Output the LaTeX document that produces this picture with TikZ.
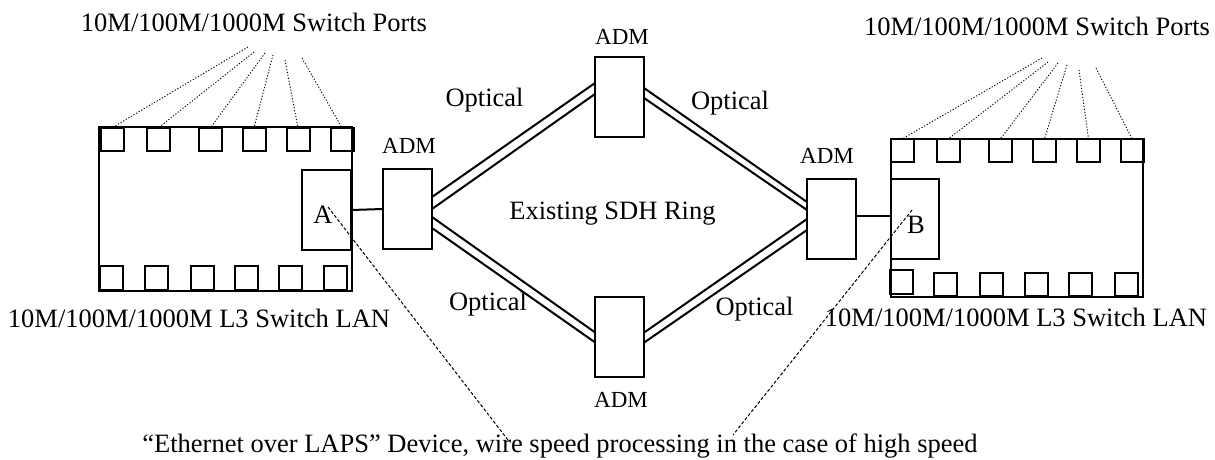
\documentclass[tikz,border=0pt]{standalone}
\usepackage{fontspec}
\setmainfont{Liberation Serif}
\usetikzlibrary{calc}
\begin{document}
\begin{tikzpicture}[x=0.5pt,y=-0.5pt,
  rbox/.style={draw,line width=1pt,inner sep=0pt,outer sep=0pt},
  port/.style={rbox,minimum width=11.5pt,minimum height=11.75pt},
  admbox/.style={rbox,minimum width=24.5pt,minimum height=40pt},
  lbl/.style={font=\fontsize{13.25}{15}\selectfont,inner sep=0pt,anchor=base},
  admlbl/.style={font=\fontsize{11.5}{13}\selectfont,inner sep=0pt,anchor=base},
  fiber/.style={line width=1pt},
  link/.style={line width=1pt},
  dots/.style={line width=0.45pt,dash pattern=on 0.6pt off 0.9pt},
  dashes/.style={line width=0.5pt,dash pattern=on 1.6pt off 1pt}]
\useasboundingbox (0,0) rectangle (1215,460);

% ---------- left switch ----------
\node[rbox,minimum width=126.5pt,minimum height=82pt] (swl) at (225.5,209) {};
\foreach \x [count=\i] in {112,158.5,210.5,254,298,342}
  \node[port] (tl\i) at (\x,139.5) {};
\foreach \x [count=\i] in {111,156.5,202,246,290.5,335.5}
  \node[port] (bl\i) at (\x,278) {};
\node[admbox] (abox) at (326.5,210) {};
\node[lbl] (alab) at (323,223) {A};

% ---------- right switch ----------
\node[rbox,minimum width=126pt,minimum height=79pt] (swr) at (1017,218) {};
\foreach \x [count=\i] in {902.5,948.5,1000.5,1044.5,1088.5,1132}
  \node[port] (tr\i) at (\x,150.5) {};
\node[port] (br1) at (901,282) {};
\foreach \x [count=\i from 2] in {945.5,991.5,1036.5,1080.5,1126}
  \node[port] (br\i) at (\x,284.5) {};
\node[rbox,minimum width=24pt,minimum height=40pt] (bbox) at (915,219) {};
\node[lbl] (blab) at (916,233) {B};

% ---------- ADMs ----------
\node[admbox] (admL) at (407.5,209) {};
\node[admbox] (admT) at (619.5,97) {};
\node[admbox] (admB) at (619,336.5) {};
\node[admbox] (admR) at (831.5,219) {};
\node[admlbl] (lL) at (409,154) {ADM};
\node[admlbl] (lT) at (622,45) {ADM};
\node[admlbl] (lB) at (621,407) {ADM};
\node[admlbl] (lR) at (827,163) {ADM};

% ---------- links ----------
\draw[link] (abox.east) -- (admL.west);
\draw[link] ($(admR.east)+(0,-3)$) -- ($(bbox.west)+(0,-3)$);

% ---------- optical double lines ----------
\draw[fiber] ($(admL.east)+(0,-12)$) -- ($(admT.west)+(0,-14)$);
\draw[fiber] ($(admL.east)+(0,0)$) -- ($(admT.west)+(0,-3)$);
\draw[fiber] ($(admT.east)+(0,-9)$) -- ($(admR.west)+(0,-17)$);
\draw[fiber] ($(admT.east)+(0,1)$) -- ($(admR.west)+(0,-9)$);
\draw[fiber] ($(admL.east)+(0,8)$) -- ($(admB.west)+(0,-4.5)$);
\draw[fiber] ($(admL.east)+(0,19)$) -- ($(admB.west)+(0,5.5)$);
\draw[fiber] ($(admB.east)+(0,-3.5)$) -- ($(admR.west)+(0,0)$);
\draw[fiber] ($(admB.east)+(0,6.5)$) -- ($(admR.west)+(0,11)$);

% ---------- labels ----------
\node[lbl] (portsL) at (254,32) {10M/100M/1000M Switch Ports};
\node[lbl] (portsR) at (1037,36) {10M/100M/1000M Switch Ports};
\node[lbl] (lanL) at (199,327) {10M/100M/1000M L3 Switch LAN};
\node[lbl] (lanR) at (1016,326) {10M/100M/1000M L3 Switch LAN};
\node[lbl] (ring) at (612.5,219) {Existing SDH Ring};
\node[lbl] (o1) at (484.5,107) {Optical};
\node[lbl] (o2) at (730,110) {Optical};
\node[lbl] (o3) at (488,310) {Optical};
\node[lbl] (o4) at (754.5,315) {Optical};
\node[lbl] (dev) at (560,452) {“Ethernet over LAPS” Device, wire speed processing in the case of high speed};

% ---------- dotted port pointers ----------
\foreach \sx/\sy [count=\i] in {248/47,254/52,265/53,273/55,285/60,302/58} {
  \coordinate (sl\i) at (\sx,\sy);
  \draw[dots] (sl\i) -- (tl\i.north);
}
\foreach \sx/\sy [count=\i] in {1042/58,1048/62,1058/63,1067/65,1079/70,1096/68} {
  \coordinate (sr\i) at (\sx,\sy);
  \draw[dots] (sr\i) -- (tr\i.north);
}

% ---------- dashed device pointers ----------
\coordinate (aS) at (328,207);
\coordinate (aE) at (508,440);
\coordinate (bS) at (912,210);
\coordinate (bE) at (733,435);
\draw[dashes] (aS) -- (aE);
\draw[dashes] (bS) -- (bE);
\end{tikzpicture}
\end{document}
